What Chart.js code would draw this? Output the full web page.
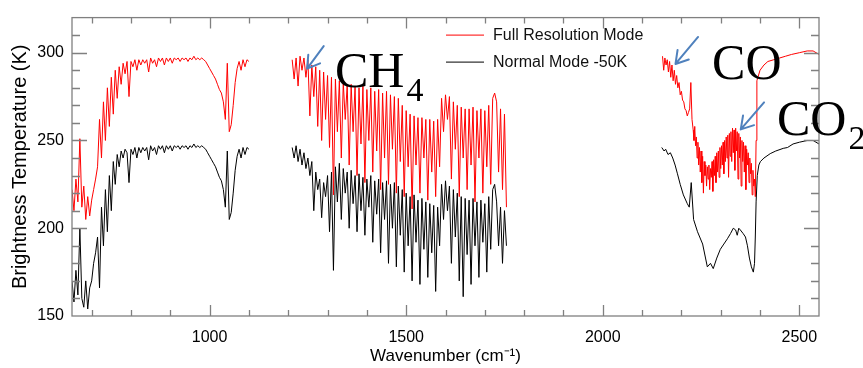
<!DOCTYPE html>
<html><head><meta charset="utf-8">
<script src="https://cdn.jsdelivr.net/npm/chart.js@4/dist/chart.umd.min.js"></script>
<style>html,body{margin:0;padding:0;background:#fff;overflow:hidden}#wrap{width:863px;height:368px;position:relative}</style>
</head><body>
<div id="wrap"><canvas id="c" width="863" height="368"></canvas></div>
<script>
// ---- Data ----
const seriesNames = ['Full Resolution Mode', 'Normal Mode -50K'];
const xTickLabels = [1000, 1500, 2000, 2500];
const yTickLabels = [150, 200, 250, 300];

// Segment A: 650-1100 cm-1
const wnA = [650,655,660,665,670,675,680,685,690,695,700,705,710,715,720,725,730,735,740,745,750,755,760,765,770,775,780,785,790,795,800,805,810,815,820,825,830,835,840,845,850,855,860,865,870,875,880,885,890,895,900,905,910,915,920,925,930,935,940,945,950,955,960,965,970,975,980,985,990,995,1000,1005,1010,1015,1020,1025,1030,1035,1040,1045,1050,1055,1060,1065,1070,1075,1080,1085,1090,1095,1100];
const fullA = [222,210,228,215,251,212,224,205,218,207,216,222,228,235,262,240,272,250,280,258,286,265,290,274,292,282,294,288,295,275,295,292,296,290,296,293,296,294,296,289,297,294,296,292,297,295,297,293,297,295,297,294,297,296,297,295,297,296,297,295,297,296,298,296,297,296,297,296,295,293,291,289,287,285,282,279,277,272,262,294,255,259,270,283,291,295,290,296,292,296,295];
const normalA = [170,158,176,162,200,160,155,170,154,166,170,180,186,195,166,212,190,222,198,230,210,238,225,242,235,244,240,245,243,226,245,242,246,240,246,243,246,244,246,239,247,244,246,242,247,245,247,243,247,245,247,244,247,246,247,245,247,246,247,245,247,246,248,246,247,246,247,246,245,243,241,239,237,235,232,229,227,222,212,244,205,209,220,233,241,245,240,246,242,246,245];

// Segment B: 1210-1755 cm-1
const wnB = [1210,1215,1220,1225,1230,1235,1240,1245,1250,1255,1260,1265,1270,1275,1280,1285,1290,1295,1300,1305,1310,1315,1320,1325,1330,1335,1340,1345,1350,1355,1360,1365,1370,1375,1380,1385,1390,1395,1400,1405,1410,1415,1420,1425,1430,1435,1440,1445,1450,1455,1460,1465,1470,1475,1480,1485,1490,1495,1500,1505,1510,1515,1520,1525,1530,1535,1540,1545,1550,1555,1560,1565,1570,1575,1580,1585,1590,1595,1600,1605,1610,1615,1620,1625,1630,1635,1640,1645,1650,1655,1660,1665,1670,1675,1680,1685,1690,1695,1700,1705,1710,1715,1720,1725,1730,1735,1740,1745,1750,1755];
const fullB = [296,285,297,281,298,290,297,286,296,264,293,275,292,258,290,250,289,262,287,246,286,219,285,255,284,240,283,262,282,236,282,255,281,230,280,248,281,226,279,250,280,232,278,244,279,222,277,240,278,225,276,245,275,220,274,238,270,218,267,235,265,211,264,236,263,220,263,240,262,216,262,232,261,218,262,235,274,255,276,262,275,228,272,245,270,218,269,240,268,222,268,236,269,215,267,240,268,220,267,235,270,225,274,277,272,232,268,222,265,212];
const normalB = [246,240,247,238,245,236,243,234,240,230,238,210,232,222,228,206,226,218,230,198,232,176,235,215,237,205,234,220,232,200,233,214,230,198,231,210,229,196,228,212,230,192,227,208,228,186,226,205,227,180,225,200,226,178,224,196,222,175,220,190,218,170,219,192,216,168,217,188,215,172,214,186,213,164,212,190,225,205,227,210,224,180,222,195,220,170,218,161,217,185,216,168,217,190,215,172,216,192,214,175,218,188,222,225,215,190,212,180,210,190];

// Segment C: 2150-2550 cm-1
const wnCFull = [2152,2155,2158,2161,2164,2167,2170,2173,2176,2179,2182,2185,2188,2191,2194,2197,2200,2203,2206,2209,2212,2215,2218,2221,2224,2227,
  2230,2232,2234,2236,2238,2240,2242,2244,2246,2248,2250,2252,2254,2256,2258,2260,2262,2264,2266,2268,2270,2272,2274,2276,2278,2280,2282,2284,2286,2288,2290,2292,2294,2296,2298,2300,2302,2304,2306,2308,2310,2312,2314,2316,2318,2320,2322,2324,2326,2328,2330,2332,2334,2336,2338,2340,2342,2344,2346,2348,2350,2352,2354,2356,2358,2360,2362,2364,2366,2368,2370,2372,2374,2376,2378,2380,2382,2384,2386,2388,2390,2392,
  2400,2410,2420,2435,2450,2465,2480,2500,2520,2535,2550];
const fullC = [298,290,297,293,296,289,295,286,293,284,290,282,287,280,283,276,278,273,272,268,267,264,266,268,283,262,
  256,250,258,247,252,240,249,236,246,232,244,226,241,220,238,230,236,224,235,228,236,222,234,229,238,221,239,230,241,226,243,232,244,229,246,234,247,236,249,231,250,238,252,240,253,229,254,241,255,238,257,243,256,233,257,244,255,228,254,240,252,224,250,238,249,232,247,222,245,236,243,226,240,231,237,219,233,224,228,218,250,284,
  290,293,295,296,297,298,299,300,301,301,299];
const wnCNormal = [2150,2156,2160,2166,2172,2178,2184,2190,2197,2205,2215,2220,2225,2231,2241,2254,2266,2274,2281,2290,2299,2308,2317,2325,2332,2338,2342,2346,2350,2357,2363,2368,2373,2378,2383,2386,2388,2390,2393,2397,2401,2410,2426,2440,2459,2470,2484,2500,2520,2535,2550];
const normalC = [246,244,245,242,243,240,236,231,225,219,214,212,226,205,198,191,178,180,177,183,188,191,194,197,200,199,196,200,199,197,195,190,183,178,175,180,195,215,230,236,238,240,242.5,244,245.5,246,248,249,250,250,248];

// annotation texts
const labelCH4 = {main: 'CH', sub: '4', w: 1319, t: 280.3};
const labelCO = {main: 'CO', sub: '', w: 2278, t: 284.8};
const labelCO2 = {main: 'CO', sub: '2', w: 2443, t: 252.9};
const arrowTips = [{w: 1248, t: 290.9, dx: 16.6, dy: -22.6}, {w: 2185, t: 293.6, dx: 22.6, dy: -27}, {w: 2351, t: 256.3, dx: 23.3, dy: -27}];

// ---- Build datasets ----
function pts(wn, vals) { return wn.map((w, i) => ({x: w, y: vals[i]})); }
const brk = v => ({x: v, y: null});
const fullData = [...pts(wnA, fullA), brk(1150), ...pts(wnB, fullB), brk(1950), ...pts(wnCFull, fullC)];
const normalData = [...pts(wnA, normalA), brk(1150), ...pts(wnB, normalB), brk(1950), ...pts(wnCNormal, normalC)];

const SANS = '"Liberation Sans", Arial, sans-serif';
const SERIF = '"Liberation Serif", "Times New Roman", serif';

const framePlugin = {
  id: 'frame',
  afterDraw(chart) {
    const {ctx, chartArea: a, scales: {x, y}} = chart;
    ctx.save();
    ctx.strokeStyle = '#808080';
    ctx.lineWidth = 1.3;
    ctx.strokeRect(a.left, a.top, a.right - a.left, a.bottom - a.top);
    ctx.beginPath();
    for (let v = 700; v <= 2500; v += 100) {
      const px = Math.round(x.getPixelForValue(v)) + 0.5;
      const L = v % 500 === 0 ? 11 : 6;
      ctx.moveTo(px, a.bottom); ctx.lineTo(px, a.bottom - L);
      ctx.moveTo(px, a.top); ctx.lineTo(px, a.top + L);
    }
    for (let v = 160; v <= 310; v += 10) {
      const py = Math.round(y.getPixelForValue(v)) + 0.5;
      const L = v % 50 === 0 ? 15 : 8;
      ctx.moveTo(a.left, py); ctx.lineTo(a.left + L, py);
      ctx.moveTo(a.right, py); ctx.lineTo(a.right - L, py);
    }
    ctx.stroke();

    const ds = chart.data.datasets;
    const lx0 = a.left + 374, lx1 = a.left + 412, tx = a.left + 421;
    [17, 44].forEach((dy, i) => {
      const yy = a.top + dy + 0.5;
      ctx.strokeStyle = ds[i].borderColor; ctx.lineWidth = 1;
      ctx.beginPath(); ctx.moveTo(lx0, yy); ctx.lineTo(lx1, yy); ctx.stroke();
      ctx.fillStyle = '#111'; ctx.font = '16px ' + SANS; ctx.textBaseline = 'middle'; ctx.textAlign = 'left';
      ctx.fillText(ds[i].label, tx, yy);
    });

    ctx.strokeStyle = '#4f81bd'; ctx.lineWidth = 2; ctx.lineCap = 'round';
    arrowTips.forEach(ar => {
      const tx0 = x.getPixelForValue(ar.w), ty0 = y.getPixelForValue(ar.t);
      const ang = Math.atan2(ar.dy, ar.dx);
      ctx.beginPath();
      ctx.moveTo(tx0, ty0); ctx.lineTo(tx0 + ar.dx, ty0 + ar.dy);
      [-0.55, 0.55].forEach(d => {
        ctx.moveTo(tx0, ty0);
        ctx.lineTo(tx0 + 14 * Math.cos(ang + d), ty0 + 14 * Math.sin(ang + d));
      });
      ctx.stroke();
    });

    ctx.fillStyle = '#000'; ctx.textBaseline = 'alphabetic'; ctx.textAlign = 'left';
    [labelCH4, labelCO, labelCO2].forEach(l => {
      const px = x.getPixelForValue(l.w), py = y.getPixelForValue(l.t);
      ctx.font = '50px ' + SERIF;
      ctx.fillText(l.main, px, py);
      if (l.sub) {
        const w = ctx.measureText(l.main).width;
        ctx.font = '34px ' + SERIF;
        ctx.fillText(l.sub, px + w + 2, py + 14);
      }
    });
    ctx.restore();
  }
};

new Chart(document.getElementById('c'), {
  type: 'line',
  data: {
    datasets: [
      {label: seriesNames[0], data: fullData, borderColor: '#ff0000', borderWidth: 1, pointRadius: 0, tension: 0, spanGaps: false, order: 1},
      {label: seriesNames[1], data: normalData, borderColor: '#000000', borderWidth: 1, pointRadius: 0, tension: 0, spanGaps: false, order: 0}
    ]
  },
  options: {
    responsive: false, animation: false, devicePixelRatio: 1,
    layout: {padding: {top: 12, right: 44, left: 0, bottom: 0}},
    plugins: {legend: {display: false}, tooltip: {enabled: false}},
    scales: {
      x: {
        type: 'linear', min: 650, max: 2550,
        afterBuildTicks: s => { s.ticks = xTickLabels.map(v => ({value: v})); },
        afterFit: s => { s.height = 52; },
        grid: {display: false, drawTicks: false}, border: {display: false},
        ticks: {font: {family: SANS, size: 16}, color: '#000', padding: 12, maxRotation: 0, callback: v => String(v)},
        title: {display: true, text: 'Wavenumber (cm\u207B\u00B9)', font: {family: SANS, size: 17}, color: '#000', padding: {top: 0, bottom: 1}}
      },
      y: {
        type: 'linear', min: 150, max: 320,
        afterBuildTicks: s => { s.ticks = yTickLabels.map(v => ({value: v})); },
        afterFit: s => { s.width = 72; },
        grid: {display: false, drawTicks: false}, border: {display: false},
        ticks: {font: {family: SANS, size: 16}, color: '#000', padding: 8, callback: v => String(v)},
        title: {display: true, text: 'Brightness Temperature (K)', font: {family: SANS, size: 20}, color: '#000', padding: {top: 8, bottom: 0}}
      }
    }
  },
  plugins: [framePlugin]
});
</script>
</body></html>
